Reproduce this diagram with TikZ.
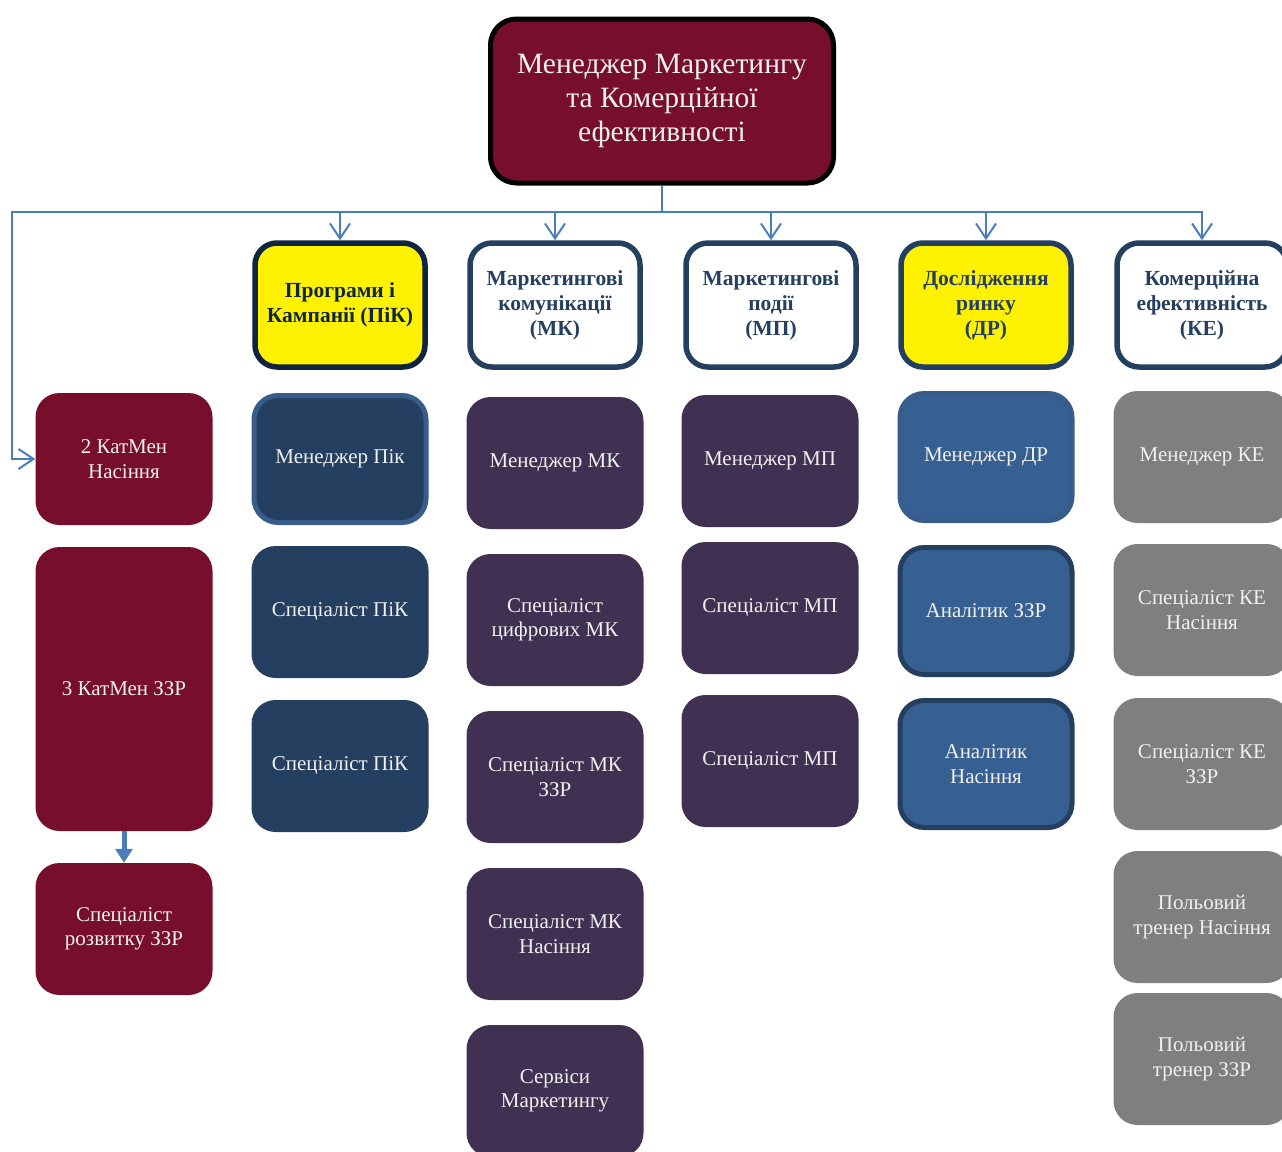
\documentclass[tikz,border=0pt]{standalone}
\usepackage{fontspec}
\setmainfont{Liberation Serif}
\usepackage{xcolor}
\usetikzlibrary{arrows.meta}

\definecolor{wine}{RGB}{119,15,44}
\definecolor{navy}{RGB}{36,63,96}
\definecolor{darknavy}{RGB}{15,36,62}
\definecolor{plum}{RGB}{64,49,82}
\definecolor{steel}{RGB}{55,96,146}
\definecolor{steelrim}{RGB}{56,93,138}
\definecolor{greybox}{RGB}{127,127,127}
\definecolor{linkblue}{RGB}{74,126,187}

\tikzset{
  box/.style={rectangle, rounded corners=24pt, minimum width=177pt, minimum height=132pt,
    align=center, inner sep=2pt, text=white!94!black,
    font=\fontsize{21}{24.5}\selectfont},
  rimbox/.style={box, draw=#1, line width=5pt, minimum width=172pt, minimum height=127pt},
  hdr/.style={rectangle, rounded corners=22pt, minimum width=170pt, minimum height=124pt,
    align=center, inner sep=2pt, line width=5.5pt, draw=navy, fill=white,
    text=navy, font=\fontsize{21.5}{25}\selectfont\bfseries},
  link/.style={draw=linkblue, line width=2pt},
  linkto/.style={link, -{Straight Barb[length=15pt,width=20pt,line width=2pt]}},
}

\begin{document}
\begin{tikzpicture}[x=1pt, y=-1pt]
  \useasboundingbox (0,0) rectangle (1282,1151);

  % head of department
  \node[rectangle, rounded corners=26pt, minimum width=343pt, minimum height=164pt, align=center,
        fill=wine, draw=black, line width=5pt, text=white!94!black,
        font=\fontsize{29.5}{34}\selectfont] (chief) at (662,101)
        {Менеджер Маркетингу\\та Комерційної\\ефективності};

  % sections
  \node[hdr, fill=yellow, draw=darknavy, text=darknavy] (pik) at (340,305) {Програми і\\Кампанії (ПіК)};
  \node[hdr] (mk) at (555,305) {Маркетингові\\комунікації\\(МК)};
  \node[hdr] (mp) at (771,305) {Маркетингові\\події\\(МП)};
  \node[hdr, fill=yellow] (dr) at (986,305) {Дослідження\\ринку\\(ДР)};
  \node[hdr] (ke) at (1202,305) {Комерційна\\ефективність\\(КЕ)};

  % category managers
  \node[box, fill=wine] (katnas) at (124,459) {2 КатМен\\Насіння};
  \node[box, fill=wine, minimum height=284pt] (katzzr) at (124,689) {3 КатМен ЗЗР};
  \node[box, fill=wine] (rozv) at (124,929) {Спеціаліст\\розвитку ЗЗР};

  % ПіК
  \node[rimbox=steelrim, fill=navy] (pikman) at (340,459) {Менеджер Пік};
  \node[box, fill=navy] (pikspa) at (340,612) {Спеціаліст ПіК};
  \node[box, fill=navy] (pikspb) at (340,766) {Спеціаліст ПіК};

  % МК
  \node[box, fill=plum] (mkman) at (555,463) {Менеджер МК};
  \node[box, fill=plum] (mkdig) at (555,620) {Спеціаліст\\цифрових МК};
  \node[box, fill=plum] (mkzzr) at (555,777) {Спеціаліст МК\\ЗЗР};
  \node[box, fill=plum] (mknas) at (555,934) {Спеціаліст МК\\Насіння};
  \node[box, fill=plum] (mkserv) at (555,1091) {Сервіси\\Маркетингу};

  % МП
  \node[box, fill=plum] (mpman) at (770,461) {Менеджер МП};
  \node[box, fill=plum] (mpspa) at (770,608) {Спеціаліст МП};
  \node[box, fill=plum] (mpspb) at (770,761) {Спеціаліст МП};

  % ДР
  \node[rimbox=steelrim, fill=steel] (drman) at (986,457) {Менеджер ДР};
  \node[rimbox=navy, fill=steel] (drzzr) at (986,611) {Аналітик ЗЗР};
  \node[rimbox=navy, fill=steel] (drnas) at (986,764) {Аналітик\\Насіння};

  % КЕ
  \node[box, fill=greybox] (keman) at (1202,457) {Менеджер КЕ};
  \node[box, fill=greybox] (kenas) at (1202,610) {Спеціаліст КЕ\\Насіння};
  \node[box, fill=greybox] (kezzr) at (1202,764) {Спеціаліст КЕ\\ЗЗР};
  \node[box, fill=greybox] (trnas) at (1202,917) {Польовий\\тренер Насіння};
  \node[box, fill=greybox] (trzzr) at (1202,1059) {Польовий\\тренер ЗЗР};

  % connectors
  \coordinate (bus) at (662,212);
  \coordinate (busl) at (12,212);
  \draw[link] (chief.south) -- (bus);
  \draw[linkto] (bus) -| (pik.north);
  \draw[linkto] (bus) -| (mk.north);
  \draw[linkto] (bus) -| (mp.north);
  \draw[linkto] (bus) -| (dr.north);
  \draw[linkto] (bus) -| (ke.north);
  \draw[linkto] (bus) -- (busl) |- (katnas.west);
  \draw[draw=linkblue, line width=5pt, -{Triangle[length=14pt,width=17pt]}] (katzzr.south) -- (rozv.north);
\end{tikzpicture}
\end{document}
